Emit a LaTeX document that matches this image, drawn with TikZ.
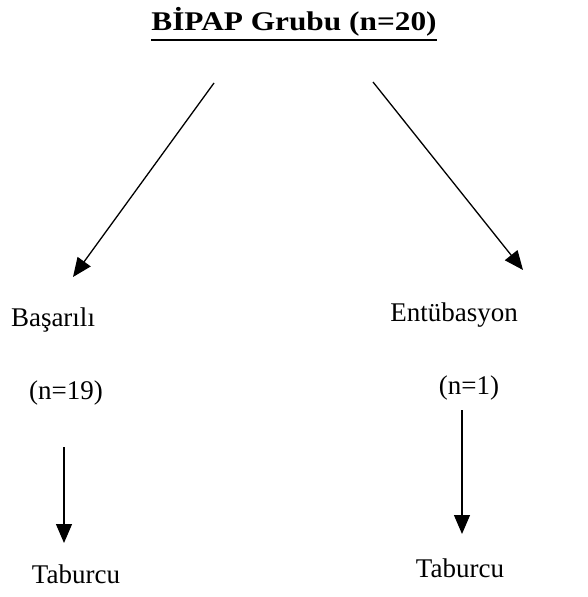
\documentclass[tikz,border=0pt]{standalone}
\usepackage{fontspec}
\setmainfont{Liberation Serif}
\usetikzlibrary{arrows.meta}
\begin{document}
\begin{tikzpicture}[x=1pt,y=-1pt,
  lbl/.style={inner sep=0pt,font=\fontsize{27}{32}\selectfont},
  ttl/.style={inner sep=0pt,font=\fontsize{27}{32}\selectfont\bfseries},
  arr/.style={line width=1.3pt,-{Triangle[length=19pt,width=16pt]}}]
\useasboundingbox (0,0) rectangle (587,597);
\node[ttl] (title) at (294,22) {\scalebox{1.16}[1]{BİPAP Grubu (n=20)}};
\draw[line width=1.8pt] ([yshift=-3pt]title.south west) -- ([yshift=-3pt]title.south east);
\node[lbl] (bas) at (53,320) {Başarılı};
\node[lbl] (ent) at (454,315) {Entübasyon};
\node[lbl] (n19) at (66,393) {(n=19)};
\node[lbl] (n1) at (469,388) {(n=1)};
\node[lbl] (tab1) at (76,574) {Taburcu};
\node[lbl] (tab2) at (460,568) {Taburcu};
\coordinate (ls) at (214,83);
\coordinate (le) at (73,277);
\coordinate (rs) at (373,82);
\coordinate (re) at (523,270);
\draw[arr] (ls) -- (le);
\draw[arr] (rs) -- (re);
\draw[arr] (n19.south -| 64,0) ++(0,42) coordinate (d1s) -- (64,543) coordinate (d1e);
\draw[arr] (n1.south -| 462,0) ++(0,10) coordinate (d2s) -- (462,534) coordinate (d2e);
\end{tikzpicture}
\end{document}
